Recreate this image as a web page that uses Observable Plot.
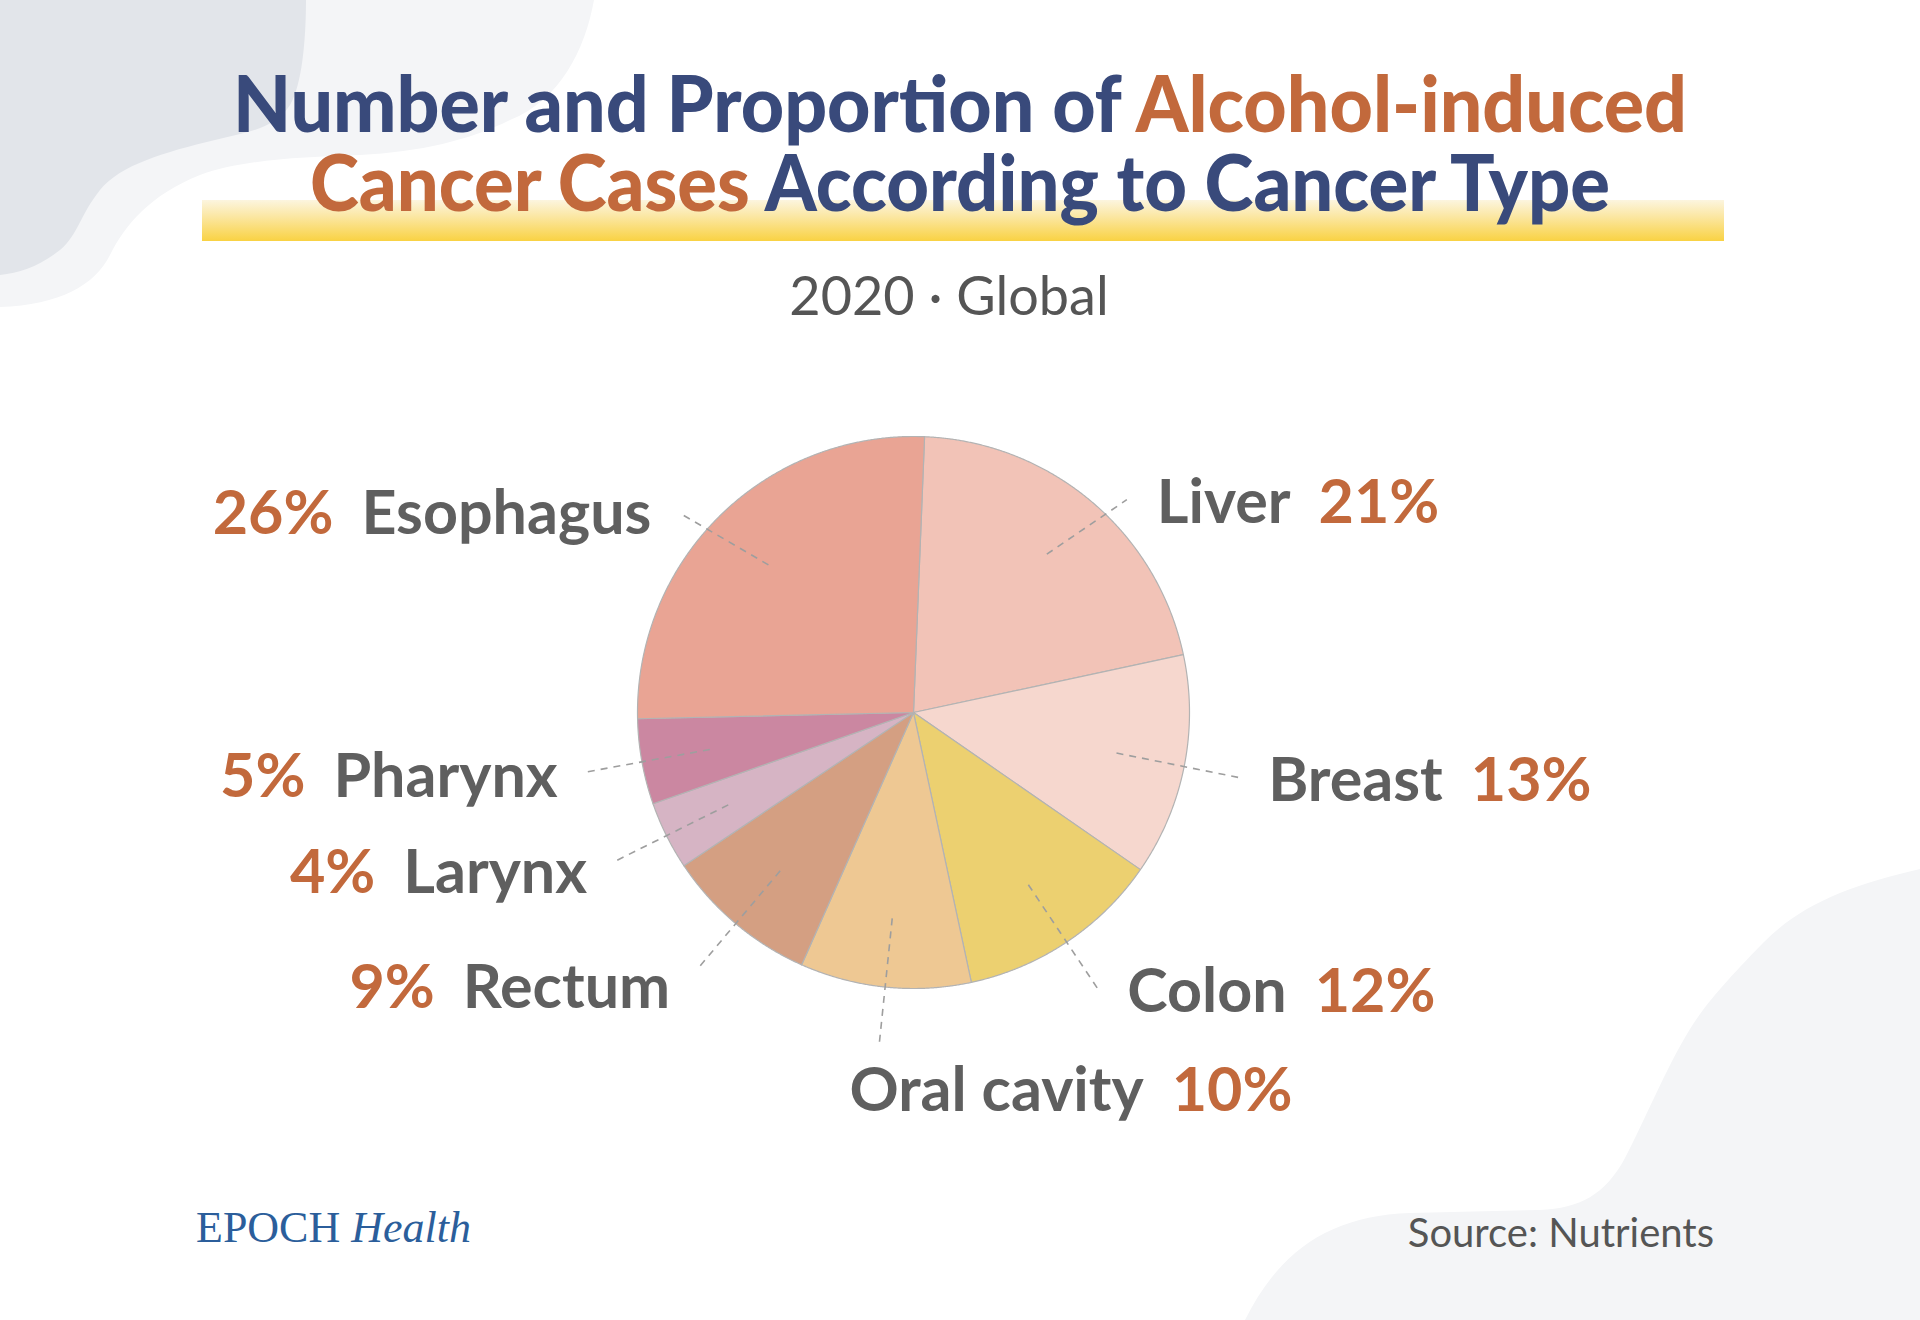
<!DOCTYPE html>
<html><head><meta charset="utf-8">
<script src="https://cdn.jsdelivr.net/npm/d3@7"></script>
<script src="https://cdn.jsdelivr.net/npm/@observablehq/plot@0.6"></script>
<style>
html,body{margin:0;padding:0;background:#fff;}
#page{position:relative;width:1920px;height:1320px;overflow:hidden;background:#fff;font-family:Lato,"Noto Sans",sans-serif;}
#bg{position:absolute;left:0;top:0;}
#title{position:absolute;left:0;top:0;font-family:Lato,"Noto Sans",sans-serif;}
.t{position:absolute;left:0;width:1920px;text-align:center;white-space:nowrap;}
#bar{position:absolute;left:202px;top:200px;width:1522px;height:41px;background:linear-gradient(to bottom,#fcf5df 0%,#fbe7a3 40%,#f9d243 100%);}
#sub{top:268px;left:-11px;font-size:54px;line-height:54px;color:#555;}
#chart{position:absolute;left:0;top:340px;}
#logo{position:absolute;left:196px;top:1206px;font-family:"Liberation Serif",serif;font-size:44px;line-height:44px;color:#2b5e9b;white-space:nowrap;}
#src{position:absolute;right:206px;top:1212px;font-size:40px;line-height:40px;color:#555;white-space:nowrap;}
</style></head>
<body><div id="page">
<svg id="bg" width="1920" height="1320">
<path d="M0,0 L594,0 C585,50 560,100 510,120 C470,140 420,152 360,155 C300,157 240,160 200,175 C150,195 125,225 110,255 C95,285 60,305 0,307 Z" fill="#f4f5f7"/>
<path d="M0,0 L306,0 C306,40 302,85 290,105 C275,128 250,132 215,140 C165,152 120,165 100,190 C80,215 78,235 60,250 C40,266 20,273 0,275 Z" fill="#e2e5ea"/>
<path d="M1920,869 C1850,885 1800,905 1763,943 C1725,982 1705,1005 1690,1029 C1665,1070 1645,1120 1625,1158 C1605,1195 1580,1208 1540,1210 L1410,1213 C1330,1216 1280,1250 1245,1320 L1920,1320 Z" fill="#f4f5f7"/>
</svg>
<div id="bar"></div>
<svg id="title" width="1920" height="250">
<text x="960" y="132" text-anchor="middle" font-size="78" font-weight="900" textLength="1454" lengthAdjust="spacingAndGlyphs"><tspan fill="#394a7b">Number and Proportion of </tspan><tspan fill="#c2693c">Alcohol-induced</tspan></text>
<text x="960" y="211" text-anchor="middle" font-size="78" font-weight="900" textLength="1300" lengthAdjust="spacingAndGlyphs"><tspan fill="#c2693c">Cancer Cases </tspan><tspan fill="#394a7b">According to Cancer Type</tspan></text>
</svg>
<div class="t" id="sub">2020 · Global</div>
<div id="chart"></div>
<div id="logo">EPOCH <i>Health</i></div>
<div id="src">Source: Nutrients</div>
</div>
<script>
// ---- data (clockwise from the top of the pie) ----
const categories = ["Liver", "Breast", "Colon", "Oral cavity", "Rectum", "Larynx", "Pharynx", "Esophagus"];
const shares = [21, 13, 12, 10, 9, 4, 5, 26];
const sliceColors = ["#f2c3b7", "#f6d7ce", "#ecd070", "#eec893", "#d49f82", "#d6b4c4", "#cb87a1", "#e9a494"];
const percentLabels = shares.map(v => `${v}%`);

// ---- layout ----
const W = 1920, H = 820, cx = 913, cy = 372, R = 276;
const startAngle = 2.3 * Math.PI / 180;

const rows = categories.map((name, i) => ({name, value: shares[i], pct: percentLabels[i]}));
const arcs = d3.pie().sort(null).value(d => d.value)
  .startAngle(startAngle).endAngle(startAngle + 2 * Math.PI)(rows);
const pt = (a, r) => [cx + r * Math.sin(a), cy - r * Math.cos(a)];

const outline = [];
arcs.forEach(a => {
  const name = a.data.name;
  outline.push({name, x: cx, y: cy});
  const n = Math.max(8, Math.ceil((a.endAngle - a.startAngle) / 0.004));
  for (let i = 0; i <= n; i++) {
    const t = a.startAngle + (a.endAngle - a.startAngle) * i / n;
    const [x, y] = pt(t, R);
    outline.push({name, x, y});
  }
  outline.push({name, x: cx, y: cy});
});

const FS = 61, gap = 28;
const ctx = document.createElement("canvas").getContext("2d");
ctx.font = `700 ${FS}px Lato`;
const leaders = [], texts = [];
arcs.forEach(a => {
  const m = (a.startAngle + a.endAngle) / 2;
  const s = Math.sin(m), c = Math.cos(m);
  const [x1, y1] = pt(m, 0.75 * R);
  // label anchors on an ellipse that is flattened above the centre
  const x2 = cx + 1.2 * R * s;
  const y2 = cy - 1.2 * R * c * (c > 0 ? 0.84 : 1);
  leaders.push({x1, y1, x2, y2});
  const nameW = ctx.measureText(a.data.name).width;
  const bottom = Math.abs(m - Math.PI) < 0.35;
  if (bottom) {
    const y = y2 + 50, x0 = x2 - 30;
    texts.push({x: x0, y, text: a.data.name, kind: "name", anchor: "start"});
    texts.push({x: x0 + nameW + gap, y, text: a.data.pct, kind: "pct", anchor: "start"});
  } else if (s > 0) {
    const y = y2 + 4, x0 = x2 + 30;
    texts.push({x: x0, y, text: a.data.name, kind: "name", anchor: "start"});
    texts.push({x: x0 + nameW + gap, y, text: a.data.pct, kind: "pct", anchor: "start"});
  } else {
    const y = y2 + 30 * Math.max(0, -c), xe = x2 - 30;
    texts.push({x: xe, y, text: a.data.name, kind: "name", anchor: "end"});
    texts.push({x: xe - nameW - gap, y, text: a.data.pct, kind: "pct", anchor: "end"});
  }
});

const textMarks = [];
for (const kind of ["name", "pct"]) for (const anchor of ["start", "end"]) {
  textMarks.push(Plot.text(texts.filter(d => d.kind === kind && d.anchor === anchor), {
    x: "x", y: "y", text: "text", textAnchor: anchor, lineAnchor: "middle",
    fontSize: FS, fontWeight: 700, fontFamily: "Lato, 'Noto Sans', sans-serif",
    fill: kind === "pct" ? "#c2693c" : "#5f5f5f"
  }));
}

const chart = Plot.plot({
  width: W, height: H, margin: 0,
  x: {domain: [0, W], range: [0, W], axis: null},
  y: {domain: [0, H], range: [0, H], axis: null},
  color: {domain: categories, range: sliceColors},
  style: {background: "transparent", overflow: "visible"},
  marks: [
    Plot.line(outline, {x: "x", y: "y", z: "name", fill: "name", stroke: "#b3b3b3", strokeWidth: 1.2}),
    Plot.link(leaders, {x1: "x1", y1: "y1", x2: "x2", y2: "y2", stroke: "#9e9e9e", strokeWidth: 1.6, strokeDasharray: "7,6"}),
    ...textMarks
  ]
});
document.getElementById("chart").appendChild(chart);
</script>
</body></html>
